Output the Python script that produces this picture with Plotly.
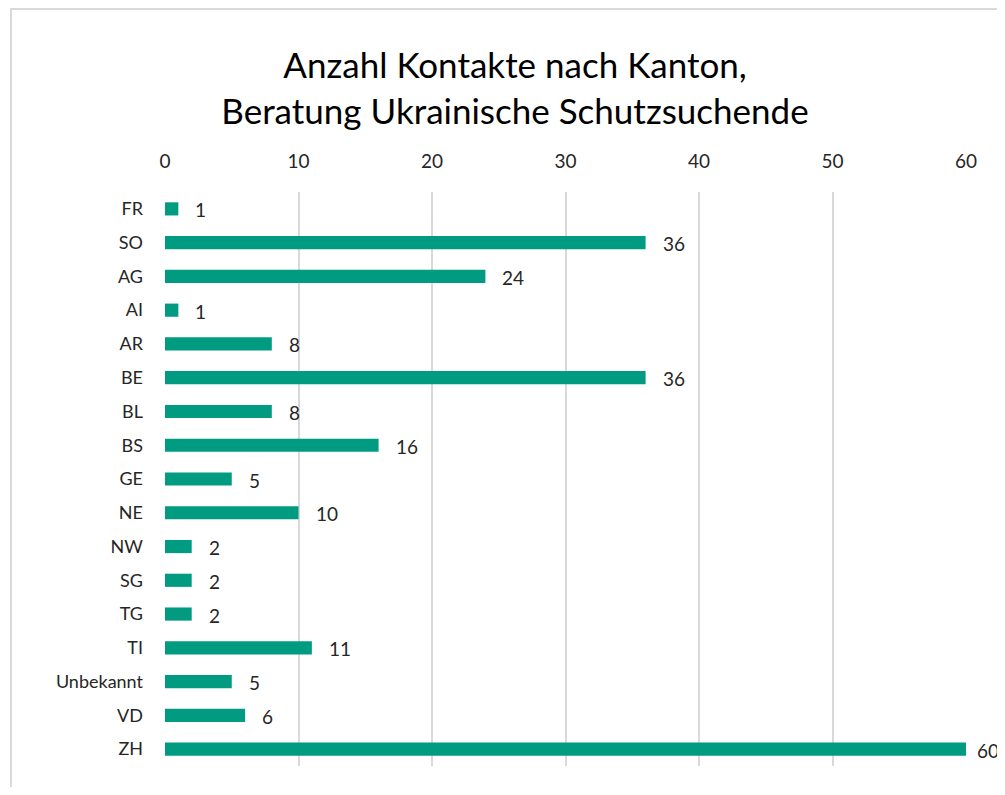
import plotly.graph_objects as go

categories = ["FR", "SO", "AG", "AI", "AR", "BE", "BL", "BS", "GE", "NE",
              "NW", "SG", "TG", "TI", "Unbekannt", "VD", "ZH"]
values = [1, 36, 24, 1, 8, 36, 8, 16, 5, 10, 2, 2, 2, 11, 5, 6, 60]
x_ticks = [0, 10, 20, 30, 40, 50, 60]
title_lines = ["Anzahl Kontakte nach Kanton,", "Beratung Ukrainische Schutzsuchende"]

FONT = "Lato"
BAR = "#009B80"

fig = go.Figure(go.Bar(
    y=categories, x=values, orientation="h",
    marker=dict(color=BAR, line=dict(width=0)),
    width=0.39, hoverinfo="x+y",
))

vmax = max(values)
for c, v in zip(categories, values):
    fig.add_annotation(x=v, y=c, xref="x", yref="y", text=str(v), showarrow=False,
                       xanchor="left", xshift=(9 if v == vmax else 15), yshift=-1,
                       font=dict(family=FONT, size=19, color="#262626"))

W, H = 995, 779
L, T = 157, 184
R = W - 958
B = H - 758
pw, ph = W - L - R, H - T - B

fig.add_shape(type="rect", xref="paper", yref="paper",
              x0=(3 - L) / pw, x1=1.3, y0=-0.2, y1=1 + (T - 1) / ph,
              line=dict(color="#D9D9D9", width=2), fillcolor="rgba(0,0,0,0)", layer="below")

fig.update_layout(
    width=W, height=H,
    margin=dict(l=L, r=R, t=T, b=B),
    paper_bgcolor="white", plot_bgcolor="white",
    showlegend=False,
    title=dict(text="<br>".join(title_lines), x=507 / W, xanchor="center",
               y=1 - 70 / H, yanchor="middle",
               font=dict(family=FONT, size=35, color="#000000")),
    xaxis=dict(side="top", range=[0, 60], tickvals=x_ticks, showgrid=True,
               gridcolor="#D9D9D9", gridwidth=2, zeroline=False, showline=False,
               ticks="", tickfont=dict(family=FONT, size=19, color="#262626"),
               ticklabelstandoff=19),
    yaxis=dict(autorange="reversed", categoryorder="array", categoryarray=categories,
               showgrid=False, zeroline=False, showline=False, ticks="",
               tickfont=dict(family=FONT, size=18, color="#262626"),
               ticklabelstandoff=21),
)

fig.write_html("out.html")
